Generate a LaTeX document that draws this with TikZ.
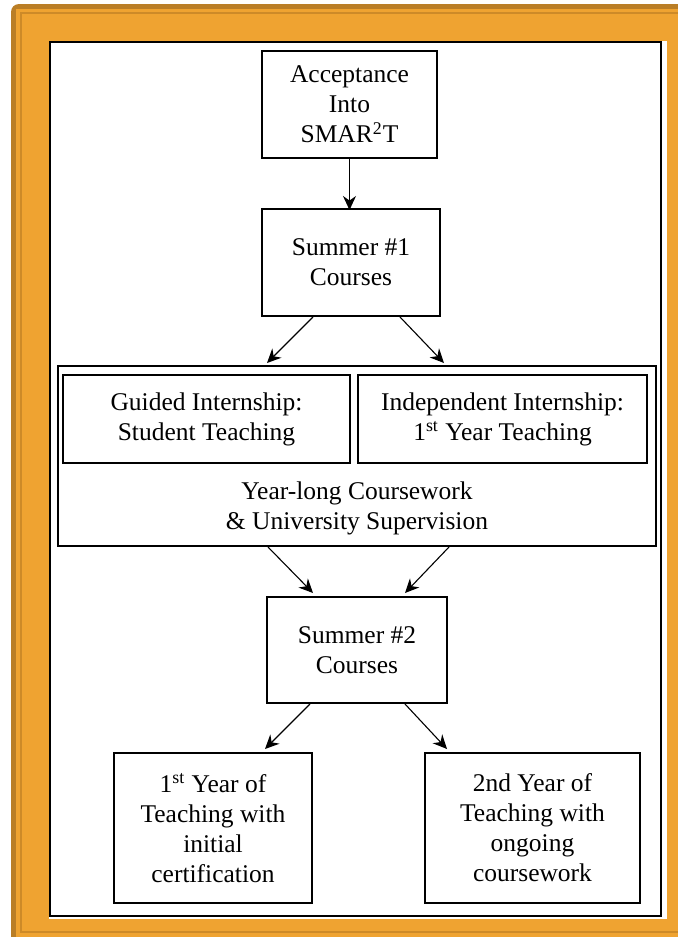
\documentclass[tikz,border=0pt]{standalone}
\usepackage{fontspec}
\setmainfont{Liberation Serif}
\usepackage{xcolor}
\usetikzlibrary{
		calc,
		positioning,
		arrows.meta
	}
\tikzset{
		>={Stealth[length=7pt, width=6.5pt]}
	}
\definecolor{frameorange}{RGB}{239,163,49}
\definecolor{frameedge}{RGB}{186,126,38}
\definecolor{frameline}{RGB}{205,138,40}

\begin{document}
\begin{tikzpicture}[x=0.5pt, y=-0.5pt,
					stage/.style={draw, line width=1pt, align=center, inner sep=0pt,
						font=\fontsize{12.75}{15}\selectfont},
					flow/.style={->, line width=0.55pt},
					plain/.style={align=center, inner sep=0pt, font=\fontsize{12.75}{15}\selectfont}]
		\useasboundingbox (0,0) rectangle (677,937);
		\fill[frameedge, rounded corners=4pt] (11,4) rectangle (700,960);
		\fill[frameorange] (16,9) rectangle (700,960);
		\draw[frameline, line width=0.6pt] (21,13) rectangle (686,932);
		\fill[white] (49,41) rectangle (667,919);
		\draw[line width=0.8pt] (50,42) rectangle (661,916);

		\node[stage, minimum width=87.5pt, minimum height=53.5pt] (accept) at (349.5,104.5)
			{Acceptance\\Into\\SMAR\textsuperscript{2}T};
		\node[stage, minimum width=89pt, minimum height=53.5pt] (summer1) at (351,262.5)
			{Summer \#1\\Courses};
		\node[stage, minimum width=299pt, minimum height=90pt] (year) at (357,456) {};
		\node[stage, minimum width=143.5pt, minimum height=44pt] (guided) at (206.5,419)
			{Guided Internship:\\Student Teaching};
		\node[stage, minimum width=144.5pt, minimum height=44pt] (indep) at (502.5,419)
			{Independent Internship:\\1\textsuperscript{st} Year Teaching};
		\node[plain] (yeartext) at (357,508)
			{Year-long Coursework\\\& University Supervision};
		\node[stage, minimum width=90pt, minimum height=53pt] (summer2) at (357,650)
			{Summer \#2\\Courses};
		\node[stage, minimum width=99pt, minimum height=75pt] (first) at (213,828)
			{1\textsuperscript{st} Year of\\Teaching with\\initial\\certification};
		\node[stage, minimum width=107.5pt, minimum height=75pt] (second) at (532.5,828)
			{2nd Year of\\Teaching with\\ongoing\\coursework};

		\draw[flow] (accept.south) -- ([yshift=-1pt]accept.south |- summer1.north);
		\draw[flow] ([xshift=-19pt]summer1.south) -- ([xshift=-45pt, yshift=1pt]year.north);
		\draw[flow] ([xshift=24.5pt]summer1.south) -- ([xshift=43.5pt, yshift=1pt]year.north);
		\draw[flow] ([xshift=-44.5pt]year.south) -- ([xshift=-22pt, yshift=1.5pt]summer2.north);
		\draw[flow] ([xshift=46pt]year.south) -- ([xshift=24pt, yshift=1.5pt]summer2.north);
		\draw[flow] ([xshift=-23.5pt]summer2.south) -- ([xshift=26pt, yshift=1.5pt]first.north);
		\draw[flow] ([xshift=24pt]summer2.south) -- ([xshift=-42.75pt, yshift=1.5pt]second.north);
	\end{tikzpicture}
\end{document}
